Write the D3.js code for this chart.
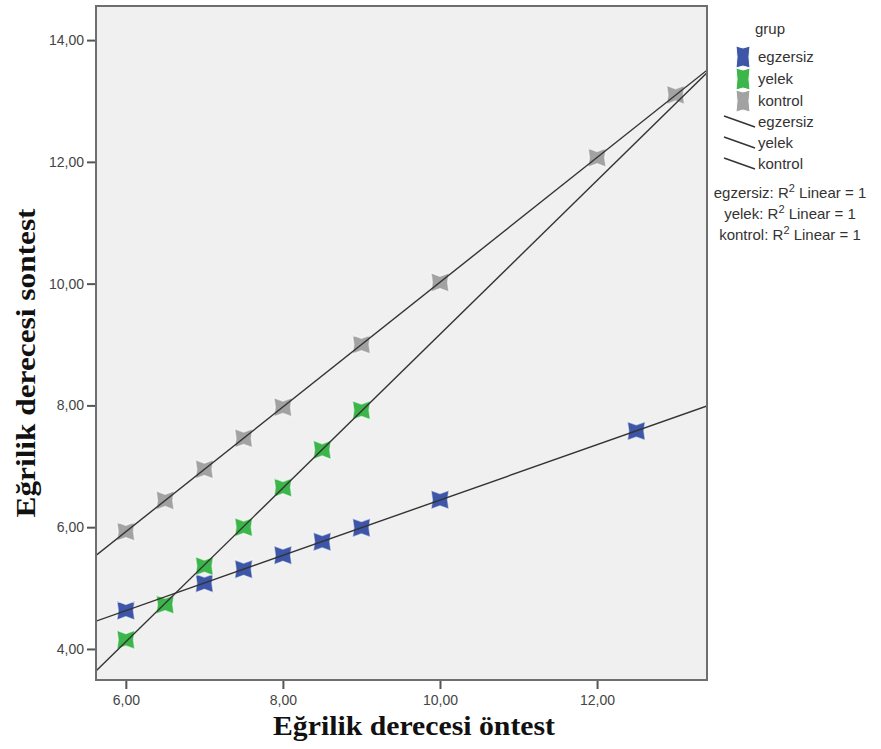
<!DOCTYPE html>
<html lang="tr">
<head>
<meta charset="UTF-8">
<title>Eğrilik derecesi</title>
<style>
  body { margin: 0; background: #fff; }
  svg text { font-family: "Liberation Sans", Arial, sans-serif; }
</style>
</head>
<body>
<svg id="chart"></svg>
<script src="https://d3js.org/d3.v7.min.js"></script>
<script>
    // data
    var groups = ["egzersiz", "yelek", "kontrol"];
    var egzersizX = [6, 7, 7.5, 8, 8.5, 9, 10, 12.5];
    var egzersizY = [4.63, 5.08, 5.31, 5.54, 5.76, 5.99, 6.45, 7.58];
    var yelekX = [6, 6.5, 7, 7.5, 8, 8.5, 9];
    var yelekY = [4.15, 4.73, 5.36, 6.0, 6.65, 7.27, 7.92];
    var kontrolX = [6, 6.5, 7, 7.5, 8, 9, 10, 12, 13];
    var kontrolY = [5.93, 6.44, 6.95, 7.46, 7.97, 9.0, 10.02, 12.07, 13.1];
    var xTicks = [6, 8, 10, 12];
    var yTicks = [4, 6, 8, 10, 12, 14];

    var colors = {egzersiz: "#3d56a8", yelek: "#3cb54a", kontrol: "#a2a2a2"};
    var series = [
        {key: "egzersiz", xs: egzersizX, ys: egzersizY},
        {key: "yelek", xs: yelekX, ys: yelekY},
        {key: "kontrol", xs: kontrolX, ys: kontrolY}
    ];

    var W = 881, H = 749;
    var plot = {left: 96, right: 707, top: 6, bottom: 680};

    var svg = d3.select("#chart").attr("width", W).attr("height", H);

    var x = d3.scaleLinear().domain([5.62, 13.40]).range([plot.left, plot.right]);
    var y = d3.scaleLinear().domain([3.49, 14.56]).range([plot.bottom, plot.top]);
    var fmt = d => d3.format(".2f")(d).replace(".", ",");

    svg.append("rect")
        .attr("x", plot.left).attr("y", plot.top)
        .attr("width", plot.right - plot.left).attr("height", plot.bottom - plot.top)
        .attr("fill", "#f0f0f0");

    svg.append("clipPath").attr("id", "clip")
      .append("rect")
        .attr("x", plot.left).attr("y", plot.top)
        .attr("width", plot.right - plot.left).attr("height", plot.bottom - plot.top);

    // marker: block with notched sides (deeper notches top and bottom)
    function marker(w, h, f) {
        var d1 = h * (f || 0.35), d2 = w * 0.15;
        return "M" + (-w) + "," + (-h) + "L0," + (-h + d1) + "L" + w + "," + (-h) +
            "L" + (w - d2) + ",0L" + w + "," + h + "L0," + (h - d1) + "L" + (-w) + "," + h +
            "L" + (-w + d2) + ",0Z";
    }

    var g = svg.append("g").attr("clip-path", "url(#clip)");

    series.forEach(function(s) {
        g.append("g").selectAll("path")
            .data(s.xs.map((v, i) => [v, s.ys[i]]))
            .enter().append("path")
            .attr("d", marker(9, 9.5))
            .attr("transform", d => `translate(${x(d[0])},${y(d[1])})`)
            .attr("fill", colors[s.key])
            .attr("stroke", "#fff")
            .attr("stroke-opacity", 0.6)
            .attr("stroke-width", 1.5)
            .attr("stroke-linejoin", "round");
    });

    // least squares fit line per group
    series.forEach(function(s) {
        var mx = d3.mean(s.xs), my = d3.mean(s.ys);
        var b = d3.sum(s.xs, (v, i) => (v - mx) * (s.ys[i] - my)) / d3.sum(s.xs, v => (v - mx) * (v - mx));
        var a = my - b * mx;
        var x0 = x.domain()[0], x1 = x.domain()[1];
        g.append("line")
            .attr("x1", x(x0)).attr("y1", y(a + b * x0))
            .attr("x2", x(x1)).attr("y2", y(a + b * x1))
            .attr("stroke", "#333").attr("stroke-width", 1.4);
    });

    // frame
    svg.append("rect")
        .attr("x", plot.left).attr("y", plot.top)
        .attr("width", plot.right - plot.left).attr("height", plot.bottom - plot.top)
        .attr("fill", "none").attr("stroke", "#6e6e6e").attr("stroke-width", 2);

    var xAxis = svg.append("g")
        .attr("transform", `translate(0,${plot.bottom + 1})`)
        .call(d3.axisBottom(x).tickValues(xTicks).tickFormat(fmt).tickSize(8).tickSizeOuter(0));
    var yAxis = svg.append("g")
        .attr("transform", `translate(${plot.left - 1},0)`)
        .call(d3.axisLeft(y).tickValues(yTicks).tickFormat(fmt).tickSize(8).tickSizeOuter(0));
    [xAxis, yAxis].forEach(function(a) {
        a.select(".domain").remove();
        a.selectAll(".tick line").attr("stroke", "#555").attr("stroke-width", 2);
        a.selectAll(".tick text").attr("fill", "#444")
            .style("font-size", "14px").style("font-family", "Liberation Sans, Arial, sans-serif");
    });
    xAxis.selectAll(".tick text").attr("dy", "0.9em");
    yAxis.selectAll(".tick text").attr("x", -11);

    // axis titles
    svg.append("text")
        .attr("x", 414).attr("y", 735)
        .attr("text-anchor", "middle")
        .attr("textLength", 282).attr("lengthAdjust", "spacingAndGlyphs")
        .style("font-family", "Liberation Serif, Times New Roman, serif")
        .style("font-weight", "bold").style("font-size", "27px").attr("fill", "#111")
        .text("Eğrilik derecesi öntest");
    svg.append("text")
        .attr("transform", "translate(35,363) rotate(-90)")
        .attr("text-anchor", "middle")
        .attr("textLength", 309).attr("lengthAdjust", "spacingAndGlyphs")
        .style("font-family", "Liberation Serif, Times New Roman, serif")
        .style("font-weight", "bold").style("font-size", "27px").attr("fill", "#111")
        .text("Eğrilik derecesi sontest");

    // legend
    var leg = svg.append("g").style("font-size", "15px").attr("fill", "#333");
    leg.append("text").attr("x", 755).attr("y", 34).text("grup");
    groups.forEach(function(k, i) {
        var cy = 57 + i * 22;
        leg.append("path")
            .attr("d", marker(7, 11, 0.18))
            .attr("transform", `translate(743,${cy})`)
            .attr("fill", colors[k])
            .attr("stroke", "#fff").attr("stroke-width", 1);
        leg.append("text").attr("x", 758).attr("y", cy + 5).text(k);
    });
    groups.forEach(function(k, i) {
        var cy = 122 + i * 21;
        leg.append("line")
            .attr("x1", 724).attr("y1", cy - 6).attr("x2", 755).attr("y2", cy + 5)
            .attr("stroke", "#333").attr("stroke-width", 1.4);
        leg.append("text").attr("x", 758).attr("y", cy + 5).text(k);
    });
    groups.forEach(function(k, i) {
        var t = leg.append("text")
            .attr("x", 790).attr("y", 198 + i * 21)
            .attr("text-anchor", "middle");
        t.append("tspan").text(k + ": R");
        t.append("tspan").attr("dy", -6).style("font-size", "11px").text("2");
        t.append("tspan").attr("dy", 6).text(" Linear = 1");
    });
</script>
</body>
</html>
